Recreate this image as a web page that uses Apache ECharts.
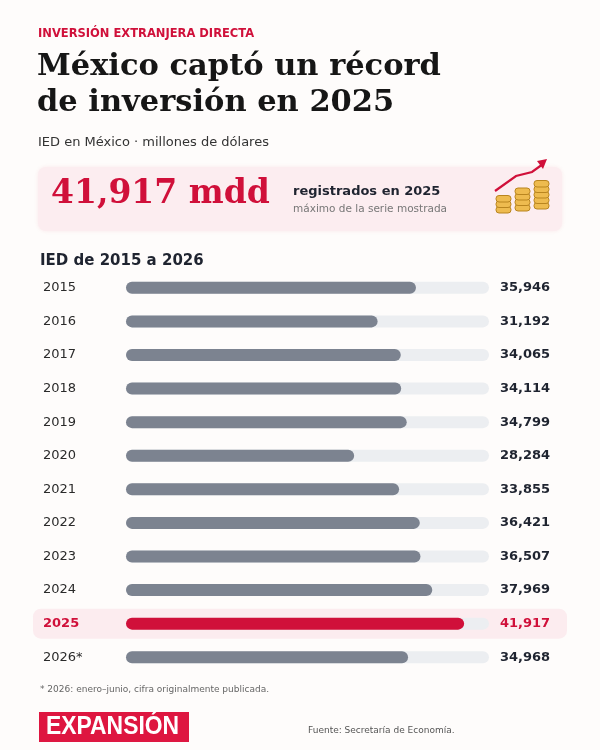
<!DOCTYPE html>
<html>
<head>
<meta charset="utf-8">
<script src="https://cdn.jsdelivr.net/npm/echarts@6/dist/echarts.min.js"></script>
<style>
  html, body { margin: 0; padding: 0; background: #fefcfb; }
  #main { width: 600px; height: 750px; }
</style>
</head>
<body>
<div id="main"></div>
<script>
    // datos: IED en México, millones de dólares
    var years = ['2015', '2016', '2017', '2018', '2019', '2020', '2021', '2022', '2023', '2024', '2025', '2026*'];
    var values = [35946, 31192, 34065, 34114, 34799, 28284, 33855, 36421, 36507, 37969, 41917, 34968];
    var highlightYear = '2025';
    var axisMax = 45000;

    var RED = '#d0103a';
    var GRAY = '#7c8390';
    var SANS = 'DejaVu Sans';
    var SERIF = 'DejaVu Serif';

    var myChart = echarts.init(document.getElementById('main'));

    function fmt(v) {
        return v.toLocaleString('en-US');
    }

    var barData = values.map(function (v, i) {
        return {
            value: v,
            itemStyle: { color: years[i] === highlightYear ? RED : GRAY }
        };
    });

    // moneditas del icono
    function coinStack(x, yBottom, n) {
        var out = [];
        for (var i = 0; i < n; i++) {
            out.push({
                type: 'rect', z: 5,
                shape: { x: x, y: yBottom - (i + 1) * 5.5, width: 15, height: 6.5, r: 3 },
                style: { fill: '#eebb4f', stroke: '#b9851f', lineWidth: 1 }
            });
        }
        return out;
    }

    var graphics = [
        { type: 'text', left: 38, top: 28, style: { text: 'INVERSIÓN EXTRANJERA DIRECTA', fill: RED, font: 'bold 11.5px ' + SANS } },
        { type: 'text', left: 37, top: 52, style: { text: 'México captó un récord', fill: '#161616', font: 'bold 30.5px ' + SERIF } },
        { type: 'text', left: 37, top: 88, style: { text: 'de inversión en 2025', fill: '#161616', font: 'bold 30.5px ' + SERIF } },
        { type: 'text', left: 38, top: 136, style: { text: 'IED en México · millones de dólares', fill: '#333', font: '13px ' + SANS } },
        {
            type: 'rect', z: 1,
            shape: { x: 38, y: 167, width: 524, height: 64, r: 8 },
            style: { fill: '#fcedf0', shadowBlur: 4, shadowColor: 'rgba(200,16,46,0.08)' }
        },
        { type: 'text', z: 2, left: 51, top: 178, style: { text: fmt(values[years.indexOf(highlightYear)]) + ' mdd', fill: RED, font: 'bold 33px ' + SERIF } },
        { type: 'text', z: 2, left: 293, top: 185, style: { text: 'registrados en ' + highlightYear, fill: '#1f2430', font: 'bold 13px ' + SANS } },
        { type: 'text', z: 2, left: 293, top: 204, style: { text: 'máximo de la serie mostrada', fill: '#777', font: '10.5px ' + SANS } },
        {
            type: 'polyline', z: 6,
            shape: { points: [[495, 191], [516, 176], [532, 172], [543, 164]] },
            style: { stroke: RED, lineWidth: 2.2, fill: null }
        },
        {
            type: 'polygon', z: 6,
            shape: { points: [[547, 159], [537, 161], [543, 169]] },
            style: { fill: RED }
        },
        { type: 'text', left: 40, top: 254, style: { text: 'IED de 2015 a 2026', fill: '#1f2430', font: 'bold 15px ' + SANS } },
        { type: 'text', left: 40, top: 685, style: { text: '* 2026: enero–junio, cifra originalmente publicada.', fill: '#666', font: '9px ' + SANS } },
        {
            type: 'rect', shape: { x: 39, y: 712, width: 150, height: 30 },
            style: { fill: '#de1640' }
        },
        {
            type: 'text', x: 46, y: 714, scaleX: 0.88,
            style: { text: 'EXPANSIÓN', fill: '#fff', font: 'bold 26px "Liberation Sans"' }
        },
        { type: 'text', left: 308, top: 726, style: { text: 'Fuente: Secretaría de Economía.', fill: '#555', font: '9px ' + SANS } }
    ];
    graphics = graphics.concat(coinStack(496, 212, 3), coinStack(515, 210, 4), coinStack(534, 208, 5));

    var option = {
        animation: false,
        backgroundColor: '#fefcfb',
        graphic: graphics,
        grid: { left: 126, right: 111, top: 271, bottom: 76 },
        xAxis: {
            type: 'value', min: 0, max: axisMax,
            show: false
        },
        yAxis: [
            {
                type: 'category', inverse: true, data: years,
                axisLine: { show: false }, axisTick: { show: false },
                axisLabel: {
                    align: 'left', margin: 83,
                    formatter: function (v) {
                        return v === highlightYear ? '{hi|' + v + '}' : '{n|' + v + '}';
                    },
                    rich: {
                        n: { color: '#2a2a2a', fontSize: 13, fontFamily: SANS },
                        hi: { color: RED, fontSize: 13, fontWeight: 'bold', fontFamily: SANS }
                    }
                }
            },
            {
                type: 'category', inverse: true, data: years, position: 'right',
                axisLine: { show: false }, axisTick: { show: false },
                axisLabel: {
                    align: 'left', margin: 11,
                    formatter: function (v, i) {
                        var t = fmt(values[i]);
                        return v === highlightYear ? '{hi|' + t + '}' : '{n|' + t + '}';
                    },
                    rich: {
                        n: { color: '#1f2430', fontSize: 13, fontWeight: 'bold', fontFamily: SANS },
                        hi: { color: RED, fontSize: 13, fontWeight: 'bold', fontFamily: SANS }
                    }
                }
            }
        ],
        series: [
            {
                type: 'bar', yAxisIndex: 0, z: 3,
                data: barData,
                barWidth: 12,
                itemStyle: { borderRadius: 6 },
                showBackground: true,
                backgroundStyle: { color: '#eceef1', borderRadius: 6 }
            }
        ]
    };

    myChart.setOption(option);

    // fila resaltada detrás de 2025
    var yc = myChart.convertToPixel({ yAxisIndex: 0 }, highlightYear);
    graphics.push({
        type: 'rect', z: -10,
        shape: { x: 33, y: yc - 15, width: 534, height: 30, r: 8 },
        style: { fill: '#fcecef' }
    });
    myChart.setOption({ graphic: graphics });

    window.addEventListener('resize', function () {
        myChart.resize();
    });
</script>
</body>
</html>
